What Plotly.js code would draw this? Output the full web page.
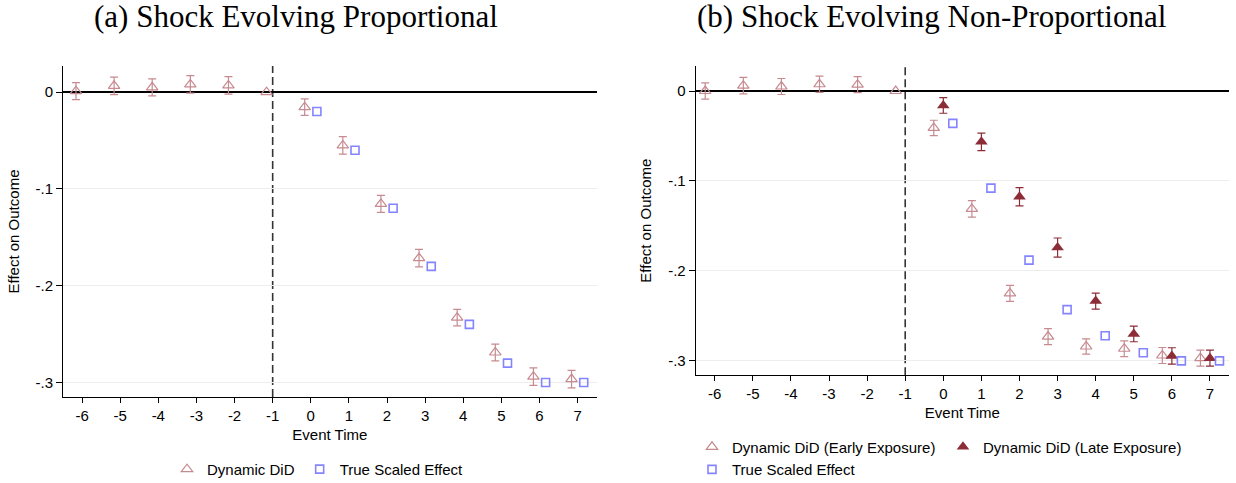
<!DOCTYPE html>
<html>
<head>
<meta charset="utf-8">
<script src="https://cdn.plot.ly/plotly-3.0.1.min.js"></script>
<style>html,body{margin:0;padding:0;background:#fff;}#chart{width:1236px;height:483px;}</style>
</head>
<body>
<div id="chart"></div>
<script>
// ---------- data ----------
const eventTime = [-6, -5, -4, -3, -2, -1, 0, 1, 2, 3, 4, 5, 6, 7];
const postTime = [0, 1, 2, 3, 4, 5, 6, 7];
const xTickText = ['-6', '-5', '-4', '-3', '-2', '-1', '0', '1', '2', '3', '4', '5', '6', '7'];
const yTickVals = [0, -0.1, -0.2, -0.3];
const yTickText = ['0', '-.1', '-.2', '-.3'];

// (a) Shock Evolving Proportional
const didA = [0.001, 0.0065, 0.005, 0.008, 0.007, 0, -0.0155, -0.055, -0.1155, -0.1715, -0.233, -0.269, -0.294, -0.2965];
const ciA = [0.0088, 0.009, 0.0088, 0.009, 0.009, null, 0.0086, 0.009, 0.0088, 0.009, 0.0086, 0.0086, 0.009, 0.009];
const trueA = [-0.02, -0.06, -0.12, -0.18, -0.24, -0.28, -0.30, -0.30];

// (b) Shock Evolving Non-Proportional
const earlyB = [0.0, 0.006, 0.005, 0.0075, 0.007, 0, -0.041, -0.131, -0.225, -0.273, -0.284, -0.2865, -0.294, -0.297];
const ciEarlyB = [0.0091, 0.0091, 0.0089, 0.0091, 0.0089, null, 0.0085, 0.0091, 0.0089, 0.0089, 0.0085, 0.0087, 0.0089, 0.0089];
const lateB = [-0.016, -0.0565, -0.1175, -0.174, -0.2335, -0.27, -0.2945, -0.297];
const ciLateB = [0.0087, 0.0097, 0.0102, 0.0106, 0.0089, 0.0087, 0.0091, 0.0089];
const trueB = [-0.036, -0.108, -0.188, -0.243, -0.272, -0.291, -0.300, -0.300];

const seriesNames = ['Dynamic DiD', 'True Scaled Effect', 'Dynamic DiD (Early Exposure)', 'Dynamic DiD (Late Exposure)'];
const panelTitles = ['(a) Shock Evolving Proportional', '(b) Shock Evolving Non-Proportional'];

// ---------- styling ----------
const LIGHT = '#c68a90';
const DARK = '#8c2c37';
const BLUE = '#8484ff';
const shift = (arr, d) => arr.map(v => v + d);
const ci = arr => arr.map(v => (v === null ? NaN : v));
const FONT = 'Liberation Sans, Arial, Helvetica, sans-serif';

const errStyle = (arr, color) => ({type: 'data', array: ci(arr), visible: true, color: color, thickness: 1.2, width: 4});

const traces = [
  {x: shift(eventTime, -0.16), y: didA, error_y: errStyle(ciA, LIGHT), type: 'scatter', mode: 'markers', name: seriesNames[0],
   marker: {symbol: 'triangle-up-open', size: 10, color: LIGHT, line: {width: 1.2}}, xaxis: 'x', yaxis: 'y', legend: 'legend'},
  {x: shift(postTime, 0.16), y: trueA, type: 'scatter', mode: 'markers', name: seriesNames[1],
   marker: {symbol: 'square-open', size: 8, color: BLUE, line: {width: 1.6}}, xaxis: 'x', yaxis: 'y', legend: 'legend'},
  {x: shift(eventTime, -0.25), y: earlyB, error_y: errStyle(ciEarlyB, LIGHT), type: 'scatter', mode: 'markers', name: seriesNames[2],
   marker: {symbol: 'triangle-up-open', size: 10, color: LIGHT, line: {width: 1.2}}, xaxis: 'x2', yaxis: 'y2', legend: 'legend2'},
  {x: postTime, y: lateB, error_y: errStyle(ciLateB, DARK), type: 'scatter', mode: 'markers', name: seriesNames[3],
   marker: {symbol: 'triangle-up', size: 11, color: DARK}, xaxis: 'x2', yaxis: 'y2', legend: 'legend2'},
  {x: shift(postTime, 0.25), y: trueB, type: 'scatter', mode: 'markers', name: seriesNames[1],
   marker: {symbol: 'square-open', size: 8, color: BLUE, line: {width: 1.6}}, xaxis: 'x2', yaxis: 'y2', legend: 'legend3'}
];

const xAxisBase = {
  range: [-6.5, 7.5], tickvals: eventTime, ticktext: xTickText, ticks: 'outside', ticklen: 5, tickcolor: '#000',
  showline: true, linecolor: '#000', linewidth: 1, showgrid: false, zeroline: false,
  tickfont: {family: FONT, size: 15, color: '#000'},
  title: {text: 'Event Time', font: {family: FONT, size: 15, color: '#000'}, standoff: 6}
};
const yAxisBase = {
  tickvals: yTickVals, ticktext: yTickText, ticks: 'outside', ticklen: 6, tickcolor: '#000',
  showline: true, linecolor: '#000', linewidth: 1, showgrid: true, gridcolor: '#ededed', gridwidth: 1,
  zeroline: true, zerolinecolor: '#000', zerolinewidth: 1.6,
  tickfont: {family: FONT, size: 15, color: '#000'},
  title: {text: 'Effect on Outcome', font: {family: FONT, size: 15, color: '#000'}, standoff: 12}
};

const PL = 63, PT = 66, PB = 86.3, W = 1236, H = 483, PR = 7;
const pw = W - PL - PR, ph = H - PT - PB;
const px = v => (v - PL) / pw;
const py = v => (H - PB - v) / ph;
const TFONT = {family: 'Liberation Serif, Times New Roman, serif', size: 31, color: '#000'};

const layout = {
  width: W, height: H,
  margin: {l: PL, r: PR, t: PT, b: PB, autoexpand: false},
  paper_bgcolor: '#fff', plot_bgcolor: '#fff',
  font: {family: FONT, size: 15, color: '#000'},
  xaxis: Object.assign({}, xAxisBase, {domain: [0, px(596.7)], anchor: 'y'}),
  yaxis: Object.assign({}, yAxisBase, {domain: [0, 1], range: [-0.315, 0.027], anchor: 'x'}),
  xaxis2: Object.assign({}, xAxisBase, {domain: [px(695.7), 1], anchor: 'y2'}),
  yaxis2: Object.assign({}, yAxisBase, {domain: [py(375), 1], range: [-0.316, 0.0278], anchor: 'x2'}),
  shapes: [
    {type: 'line', xref: 'x', yref: 'y domain', x0: -1, x1: -1, y0: 0, y1: 1, layer: 'below', line: {color: '#333', width: 1.6, dash: '8px,4px'}},
    {type: 'line', xref: 'x2', yref: 'y2 domain', x0: -1, x1: -1, y0: 0, y1: 1, layer: 'below', line: {color: '#333', width: 1.6, dash: '8px,4px'}}
  ],
  annotations: [
    {text: panelTitles[0], xref: 'paper', yref: 'paper', x: px(296), y: py(17), xanchor: 'center', yanchor: 'middle', showarrow: false, font: TFONT},
    {text: panelTitles[1], xref: 'paper', yref: 'paper', x: px(932), y: py(17), xanchor: 'center', yanchor: 'middle', showarrow: false, font: TFONT}
  ],
  legend: {orientation: 'h', x: px(167), y: py(469), xanchor: 'left', yanchor: 'middle', bgcolor: 'rgba(0,0,0,0)', font: {family: FONT, size: 15}},
  legend2: {orientation: 'h', x: px(692), y: py(446.7), xanchor: 'left', yanchor: 'middle', entrywidth: 206, entrywidthmode: 'pixels', bgcolor: 'rgba(0,0,0,0)', font: {family: FONT, size: 15}},
  legend3: {orientation: 'h', x: px(692), y: py(469.3), xanchor: 'left', yanchor: 'middle', bgcolor: 'rgba(0,0,0,0)', font: {family: FONT, size: 15}},
  showlegend: true
};

Plotly.newPlot('chart', traces, layout, {staticPlot: true, displayModeBar: false});
</script>
</body>
</html>
